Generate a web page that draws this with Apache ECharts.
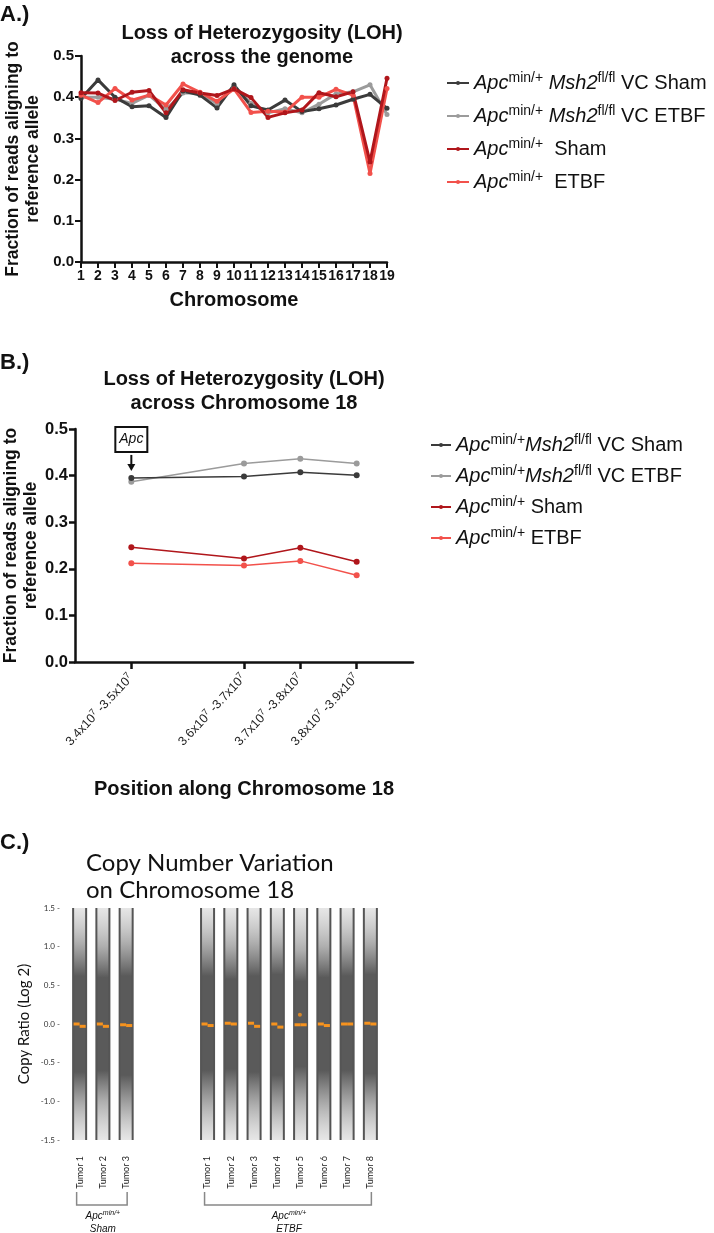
<!DOCTYPE html>
<html>
<head>
<meta charset="utf-8">
<script src="https://cdn.jsdelivr.net/npm/echarts@6/dist/echarts.min.js"></script>
<style>
  html, body { margin: 0; padding: 0; background: #fff; }
  #main { width: 714px; height: 1233px; }
</style>
</head>
<body>
<div id="main"></div>
<script>
// ---- panel A: LOH across the genome
const chromosomes = ['1','2','3','4','5','6','7','8','9','10','11','12','13','14','15','16','17','18','19'];
const vcShamA = [0.397,0.442,0.400,0.377,0.379,0.351,0.415,0.405,0.374,0.430,0.379,0.369,0.393,0.365,0.372,0.381,0.395,0.407,0.373];
const vcEtbfA = [0.400,0.400,0.395,0.385,0.405,0.370,0.410,0.410,0.385,0.425,0.385,0.362,0.372,0.362,0.383,0.408,0.413,0.430,0.358];
const shamA   = [0.411,0.410,0.392,0.412,0.416,0.362,0.418,0.410,0.404,0.420,0.399,0.351,0.362,0.369,0.411,0.401,0.413,0.243,0.446];
const etbfA   = [0.405,0.387,0.421,0.393,0.405,0.381,0.432,0.412,0.390,0.420,0.363,0.366,0.364,0.400,0.400,0.419,0.405,0.215,0.421];

// ---- panel B: LOH across chromosome 18 (bin midpoints, x10^7)
const binMid = [3.45, 3.65, 3.75, 3.85];
const binLabels = [['3.4','3.5'], ['3.6','3.7'], ['3.7','3.8'], ['3.8','3.9']];
const vcShamB = [0.395, 0.398, 0.407, 0.401];
const vcEtbfB = [0.387, 0.426, 0.436, 0.426];
const shamB   = [0.246, 0.222, 0.245, 0.215];
const etbfB   = [0.212, 0.207, 0.217, 0.186];

// ---- panel C: copy number variation on chromosome 18
const stripPos   = [0, 1, 2, 5.5, 6.5, 7.5, 8.5, 9.5, 10.5, 11.5, 12.5];
const stripNames = ['Tumor 1','Tumor 2','Tumor 3','Tumor 1','Tumor 2','Tumor 3','Tumor 4','Tumor 5','Tumor 6','Tumor 7','Tumor 8'];
const coreTop    = [0.62, 0.60, 0.62, 0.62, 0.58, 0.62, 0.64, 0.55, 0.60, 0.62, 0.64];
const coreBottom = [-0.62,-0.60,-0.66,-0.60,-0.58,-0.62,-0.66,-0.55,-0.60,-0.60,-0.64];
const tailTop    = [1.05, 1.00, 1.05, 1.05, 1.00, 1.05, 1.05, 0.95, 1.00, 1.05, 1.05];
const tailBottom = [-1.05,-1.00,-1.10,-1.05,-1.05,-1.05,-1.10,-1.00,-1.05,-1.05,-1.05];
const segLeft    = [0.00, 0.00, -0.01, 0.00, 0.01, 0.01, 0.00, -0.01, 0.00, 0.00, 0.01];
const segRight   = [-0.03,-0.03,-0.02,-0.02, 0.00,-0.03,-0.04,-0.01,-0.02, 0.00, 0.00];
const outlierPts = [[9.47, 0.12]];

const F = '"Liberation Sans", Arial, sans-serif';
const FC = 'Lato, "Open Sans", sans-serif';
const col = { vcSham: '#3b3b3b', vcEtbf: '#9b9b9b', sham: '#b0161b', etbf: '#f2514b' };
const names = ['VC Sham', 'VC ETBF', 'Sham', 'ETBF'];

const chart = echarts.init(document.getElementById('main'));

function legendText(name, gap) {
  if (name.indexOf('VC') === 0) {
    return '{i|Apc}{s|min/+}' + gap + '{i|Msh2}{s|fl/fl} VC ' + name.slice(3);
  }
  return '{i|Apc}{s|min/+}' + (gap ? '  ' : ' ') + name;
}
function richFor(size) {
  return {
    i: { fontStyle: 'italic', fontSize: size, fontFamily: F, color: '#111', lineHeight: 24 },
    s: { fontSize: size - 6, fontFamily: F, color: '#111', verticalAlign: 'top', lineHeight: 13 }
  };
}

const boldAxis = { fontFamily: F, fontWeight: 'bold', color: '#111' };

function lineSeries(name, data, color, xi, width, size) {
  return {
    name: name, type: 'line', xAxisIndex: xi, yAxisIndex: xi,
    data: data, symbol: 'circle', symbolSize: size,
    lineStyle: { color: color, width: width }, itemStyle: { color: color },
    emphasis: { disabled: true }
  };
}

const option = {
  animation: false,
  backgroundColor: '#fff',
  grid: [
    { left: 81, right: 327, top: 56, bottom: 971 },
    { left: 73, right: 301, top: 429, bottom: 571 },
    { left: 68, right: 332, top: 908, bottom: 93 }
  ],
  legend: [
    {
      orient: 'vertical', left: 441, top: 66, itemWidth: 22, itemHeight: 5, itemGap: 9,
      data: names, formatter: n => legendText(n, ' '),
      textStyle: { fontFamily: F, fontSize: 20, color: '#111', lineHeight: 24, rich: richFor(20) }
    },
    {
      orient: 'vertical', left: 425, top: 428, itemWidth: 20, itemHeight: 5, itemGap: 7,
      data: names, formatter: n => legendText(n, ''),
      textStyle: { fontFamily: F, fontSize: 20, color: '#111', lineHeight: 24, rich: richFor(20) }
    }
  ],
  xAxis: [
    {
      gridIndex: 0, type: 'category', data: chromosomes, boundaryGap: false,
      axisLine: { lineStyle: { color: '#111', width: 2.5 } },
      axisTick: { alignWithLabel: true, length: 6, lineStyle: { color: '#111', width: 2 } },
      axisLabel: Object.assign({ fontSize: 14, interval: 0, margin: 7, hideOverlap: false }, boldAxis),
      name: 'Chromosome', nameLocation: 'middle', nameGap: 28,
      nameTextStyle: Object.assign({ fontSize: 20 }, boldAxis)
    },
    {
      gridIndex: 1, type: 'value', min: 3.35, max: 3.95,
      splitLine: { show: false },
      axisLine: { lineStyle: { color: '#111', width: 2.5 } },
      axisTick: { customValues: binMid, length: 7, lineStyle: { color: '#111', width: 2.5 } },
      axisLabel: {
        customValues: binMid, rotate: 47, margin: 14,
        formatter: v => {
          const i = binMid.findIndex(b => Math.abs(b - v) < 1e-6);
          if (i < 0) return '';
          return '{t|' + binLabels[i][0] + 'x10}{s|7}{t| -' + binLabels[i][1] + 'x10}{s|7}';
        },
        rich: {
          t: { fontFamily: F, fontSize: 12.5, color: '#222', lineHeight: 16 },
          s: { fontFamily: F, fontSize: 9, color: '#222', verticalAlign: 'top', lineHeight: 9 }
        }
      },
      name: 'Position along Chromosome 18', nameLocation: 'middle', nameGap: 117,
      nameTextStyle: Object.assign({ fontSize: 20 }, boldAxis)
    },
    {
      gridIndex: 2, type: 'value', min: -0.5, max: 13,
      splitLine: { show: false }, axisLine: { show: false }, axisTick: { show: false },
      axisLabel: {
        customValues: stripPos, rotate: 90, margin: 16,
        fontFamily: FC, fontSize: 9, color: '#222',
        formatter: v => {
          const i = stripPos.findIndex(p => Math.abs(p - v) < 1e-6);
          return i < 0 ? '' : stripNames[i];
        }
      }
    }
  ],
  yAxis: [
    {
      gridIndex: 0, type: 'value', min: 0, max: 0.5, interval: 0.1,
      splitLine: { show: false },
      axisLine: { show: true, lineStyle: { color: '#111', width: 2.5 } },
      axisTick: { show: true, length: 6, lineStyle: { color: '#111', width: 2 } },
      axisLabel: Object.assign({ fontSize: 15, margin: 7, formatter: v => v.toFixed(1) }, boldAxis),
      name: 'Fraction of reads aligning to\nreference allele', nameLocation: 'middle', nameGap: 38,
      nameTextStyle: Object.assign({ fontSize: 17.5, lineHeight: 20 }, boldAxis)
    },
    {
      gridIndex: 1, type: 'value', min: 0, max: 0.5, interval: 0.1,
      splitLine: { show: false },
      axisLine: { show: true, lineStyle: { color: '#111', width: 2.5 } },
      axisTick: { show: true, length: 6, lineStyle: { color: '#111', width: 2.5 } },
      axisLabel: Object.assign({ fontSize: 16.5, margin: 7, formatter: v => v.toFixed(1) }, boldAxis),
      name: 'Fraction of reads aligning to\nreference allele', nameLocation: 'middle', nameGap: 34,
      nameTextStyle: Object.assign({ fontSize: 17.5, lineHeight: 20 }, boldAxis)
    },
    {
      gridIndex: 2, type: 'value', min: -1.5, max: 1.5, interval: 0.5,
      splitLine: { show: false }, axisLine: { show: false }, axisTick: { show: false },
      axisLabel: { fontFamily: FC, fontSize: 8, color: '#333', margin: 8, formatter: v => v.toFixed(1) + ' -' },
      name: 'Copy Ratio (Log 2)', nameLocation: 'middle', nameGap: 36,
      nameTextStyle: { fontFamily: FC, fontSize: 15, color: '#111' }
    }
  ],
  series: [
    lineSeries('VC ETBF', vcEtbfA, col.vcEtbf, 0, 3, 5),
    lineSeries('VC Sham', vcShamA, col.vcSham, 0, 3, 5),
    lineSeries('ETBF', etbfA, col.etbf, 0, 3, 5),
    lineSeries('Sham', shamA, col.sham, 0, 3, 5),
    lineSeries('VC ETBF', binMid.map((x, i) => [x, vcEtbfB[i]]), col.vcEtbf, 1, 1.5, 6),
    lineSeries('VC Sham', binMid.map((x, i) => [x, vcShamB[i]]), col.vcSham, 1, 1.5, 6),
    lineSeries('ETBF', binMid.map((x, i) => [x, etbfB[i]]), col.etbf, 1, 1.5, 6),
    lineSeries('Sham', binMid.map((x, i) => [x, shamB[i]]), col.sham, 1, 1.5, 6),
    {
      type: 'custom', xAxisIndex: 2, yAxisIndex: 2, silent: true,
      data: stripPos.map((p, i) => [p, coreTop[i], coreBottom[i], tailTop[i], tailBottom[i]]),
      renderItem: (params, api) => {
        const x = api.value(0);
        const top = api.coord([x, 1.5]);
        const bot = api.coord([x, -1.5]);
        const half = api.size([0.28, 0])[0];
        const stop = v => (1.5 - v) / 3;
        const edge = 'rgba(200,200,200,0.45)';
        const tail = 'rgba(160,160,160,0.85)';
        const core = '#5a5a5a';
        const grad = new echarts.graphic.LinearGradient(0, 0, 0, 1, [
          { offset: 0, color: edge },
          { offset: stop(api.value(3)), color: tail },
          { offset: stop(api.value(1)), color: core },
          { offset: stop(api.value(2)), color: core },
          { offset: stop(api.value(4)), color: tail },
          { offset: 1, color: edge }
        ]);
        return {
          type: 'group',
          children: [
            { type: 'rect', shape: { x: top[0] - half, y: top[1], width: half * 2, height: bot[1] - top[1] }, style: { fill: grad } },
            { type: 'line', shape: { x1: top[0] - half, y1: top[1], x2: top[0] - half, y2: bot[1] }, style: { stroke: '#555', lineWidth: 2 } },
            { type: 'line', shape: { x1: top[0] + half, y1: top[1], x2: top[0] + half, y2: bot[1] }, style: { stroke: '#555', lineWidth: 2 } }
          ]
        };
      }
    },
    {
      type: 'custom', xAxisIndex: 2, yAxisIndex: 2, silent: true,
      data: stripPos.map((p, i) => [p, segLeft[i], segRight[i]]),
      renderItem: (params, api) => {
        const x = api.value(0);
        const half = api.size([0.26, 0])[0];
        const l = api.coord([x, api.value(1)]);
        const r = api.coord([x, api.value(2)]);
        return {
          type: 'group',
          children: [
            { type: 'line', shape: { x1: l[0] - half, y1: l[1], x2: l[0], y2: l[1] }, style: { stroke: '#f7931e', lineWidth: 3 } },
            { type: 'line', shape: { x1: r[0], y1: r[1], x2: r[0] + half, y2: r[1] }, style: { stroke: '#f7931e', lineWidth: 3 } }
          ]
        };
      }
    },
    {
      type: 'scatter', xAxisIndex: 2, yAxisIndex: 2, silent: true,
      data: outlierPts, symbolSize: 4, itemStyle: { color: '#f7931e' }
    }
  ]
};

chart.setOption(option);

// annotations and panel text
const g = [];
function txt(text, x, y, style) {
  g.push({ type: 'text', silent: true, style: Object.assign({ text: text, x: x, y: y, fill: '#111' }, style) });
}
const bigBold = { fontFamily: F, fontWeight: 'bold', fontSize: 22, verticalAlign: 'middle' };
const titleBold = { fontFamily: F, fontWeight: 'bold', fontSize: 20, align: 'center', verticalAlign: 'middle', lineHeight: 24 };
txt('A.)', 0, 15, bigBold);
txt('Loss of Heterozygosity (LOH)\nacross the genome', 262, 45, titleBold);
txt('B.)', 0, 363, bigBold);
txt('Loss of Heterozygosity (LOH)\nacross Chromosome 18', 244, 391, titleBold);
txt('C.)', 0, 843, bigBold);
txt('Copy Number Variation\non Chromosome 18', 86, 877, { fontFamily: FC, fontSize: 24, lineHeight: 27, verticalAlign: 'middle' });

// Apc marker above the first bin
const p = chart.convertToPixel({ xAxisIndex: 1, yAxisIndex: 1 }, [binMid[0], vcShamB[0]]);
g.push({ type: 'rect', silent: true, shape: { x: p[0] - 16, y: p[1] - 51, width: 32, height: 25 }, style: { fill: '#fff', stroke: '#111', lineWidth: 2 } });
txt('Apc', p[0], p[1] - 38.5, { fontFamily: F, fontStyle: 'italic', fontSize: 14, align: 'center', verticalAlign: 'middle' });
g.push({ type: 'line', silent: true, shape: { x1: p[0], y1: p[1] - 23, x2: p[0], y2: p[1] - 12 }, style: { stroke: '#111', lineWidth: 2 } });
g.push({ type: 'polygon', silent: true, shape: { points: [[p[0] - 4, p[1] - 14], [p[0] + 4, p[1] - 14], [p[0], p[1] - 7]] }, style: { fill: '#111' } });

// group brackets under panel C
const groups = [
  { from: 0, to: 2, line2: 'Sham' },
  { from: 5.5, to: 12.5, line2: 'ETBF' }
];
groups.forEach(gr => {
  const a = chart.convertToPixel({ xAxisIndex: 2, yAxisIndex: 2 }, [gr.from, -1.5]);
  const b = chart.convertToPixel({ xAxisIndex: 2, yAxisIndex: 2 }, [gr.to, -1.5]);
  const yb = a[1] + 65;
  g.push({ type: 'polyline', silent: true, shape: { points: [[a[0] - 3, yb - 13], [a[0] - 3, yb], [b[0] + 1, yb], [b[0] + 1, yb - 13]] }, style: { stroke: '#888', lineWidth: 1.5, fill: null } });
  const cx = (a[0] + b[0]) / 2;
  g.push({ type: 'text', silent: true, style: {
    text: '{i|Apc}{s|min/+}', x: cx, y: yb + 11, align: 'center', verticalAlign: 'middle',
    rich: {
      i: { fontFamily: F, fontStyle: 'italic', fontSize: 10, fill: '#111', lineHeight: 12 },
      s: { fontFamily: F, fontStyle: 'italic', fontSize: 7, fill: '#111', verticalAlign: 'top', lineHeight: 7 }
    }
  } });
  txt(gr.line2, cx, yb + 24, { fontFamily: F, fontStyle: 'italic', fontSize: 10, align: 'center', verticalAlign: 'middle' });
});

chart.setOption({ graphic: g });
</script>
</body>
</html>
